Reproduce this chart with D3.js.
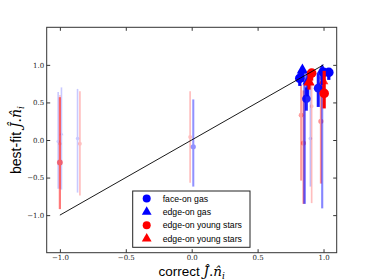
<!DOCTYPE html>
<html>
<head>
<meta charset="utf-8">
<script src="https://cdn.jsdelivr.net/npm/d3@7"></script>
<style>
  body { margin: 0; background: #fff; }
  svg { display: block; }
</style>
</head>
<body>
<svg id="chart" width="374" height="280"></svg>
<script>
// each row: [correct, bestFit, errDown, errUp, weight]
var faceGas = [
  [-1.013, -0.02, 0.63, 0.66, 0.1],
  [-0.866, 0.02, 0.72, 0.66, 0.1],
  [0.012, -0.09, 0.53, 0.63, 0.35],
  [0.90, 0.02, 0.64, 0.82, 0.12],
  [0.99, 0.83, 1.74, 0.10, 0.4],
  [0.82, 0.82, 0.10, 0.10, 1.0],
  [0.87, 0.55, 0.16, 0.15, 0.85],
  [0.96, 0.69, 0.25, 0.20, 0.9],
  [1.00, 0.90, 0.10, 0.05, 1.0],
  [1.04, 0.90, 0.10, 0.05, 1.0]
];
var edgeGas = [
  [-0.988, 0.08, 0.74, 0.62, 0.1],
  [0.856, 0.80, 1.65, 0.10, 0.55],
  [0.84, 0.93, 0.15, 0.05, 1.0],
  [0.88, 0.78, 0.20, 0.10, 0.9],
  [0.99, 0.93, 0.20, 0.05, 0.9]
];
var faceStars = [
  [-1.0, -0.30, 0.62, 0.87, 0.45],
  [-1.0, -0.05, 0.60, 0.65, 0.1],
  [-0.848, -0.05, 0.69, 0.70, 0.15],
  [-0.012, 0.04, 0.61, 0.61, 0.15],
  [0.83, 0.33, 0.87, 0.40, 0.3],
  [0.848, -0.04, 0.81, 0.70, 0.35],
  [0.91, 0.45, 1.29, 0.40, 0.15],
  [0.98, 0.25, 0.83, 0.60, 0.35],
  [0.91, 0.89, 0.10, 0.05, 1.0],
  [1.005, 0.62, 0.20, 0.30, 1.0]
];
var edgeStars = [
  [0.89, 0.77, 0.10, 0.15, 1.0],
  [1.00, 0.78, 0.15, 0.10, 0.8]
];
var legendLabels = ["face-on gas", "edge-on gas", "edge-on young stars", "edge-on young stars"];
var xTicks = [-1.0, -0.5, 0.0, 0.5, 1.0];
var yTicks = [-1.0, -0.5, 0.0, 0.5, 1.0];

var series = [
  { rows: faceGas, color: "#0000ff", shape: "circle" },
  { rows: edgeGas, color: "#0000ff", shape: "triangle" },
  { rows: faceStars, color: "#ff0000", shape: "circle" },
  { rows: edgeStars, color: "#ff0000", shape: "triangle" }
];

var svg = d3.select("#chart");
var box = { l: 46.7, r: 336.7, t: 27.3, b: 252.7 };

var x = d3.scaleLinear().domain([-1.1, 1.1]).range([box.l, box.r]);
var y = d3.scaleLinear().domain([-1.5, 1.5]).range([box.b, box.t]);
var alpha = d3.scaleLinear().domain([0, 1]).range([0.12, 1]);
var rad = d3.scaleLinear().domain([0, 1]).range([1.4, 4.8]);
var barW = d3.scaleLinear().domain([0, 1]).range([1.4, 3.2]);

// flatten, faint ones drawn first
var pts = [];
series.forEach(function(s) {
  s.rows.forEach(function(r) {
    pts.push({ x: r[0], y: r[1], lo: r[2], hi: r[3], w: r[4], color: s.color, shape: s.shape });
  });
});
pts.sort(function(a, b) { return a.w - b.w; });

var plot = svg.append("g");

var pg = plot.selectAll("g.pt")
  .data(pts)
  .enter().append("g")
    .attr("class", "pt")
    .attr("opacity", d => alpha(d.w));

pg.append("line")
  .attr("x1", d => x(d.x)).attr("x2", d => x(d.x))
  .attr("y1", d => y(d.y - d.lo)).attr("y2", d => y(d.y + d.hi))
  .attr("stroke", d => d.color)
  .attr("stroke-width", d => barW(d.w));

pg.append("path")
  .attr("transform", d => "translate(" + x(d.x) + "," + y(d.y) + ")")
  .attr("d", function(d) {
    var r = rad(d.w);
    if (d.shape == "circle") return d3.symbol(d3.symbolCircle, Math.PI * r * r)();
    return d3.symbol(d3.symbolTriangle, r * r * 2.4)();
  })
  .attr("fill", d => d.color);

// 1:1 line
plot.append("line")
  .attr("x1", x(-1)).attr("y1", y(-1))
  .attr("x2", x(1)).attr("y2", y(1))
  .attr("stroke", "#000")
  .attr("stroke-width", 0.9);

// axes, ticks pointing inward on all four sides
function styleAxis(g) {
  g.select(".domain").remove();
  g.selectAll(".tick line").attr("stroke", "#000").attr("stroke-width", 0.8);
  g.selectAll(".tick text")
    .attr("fill", "#222")
    .style("font-family", "'DejaVu Serif', serif")
    .style("font-size", "7px");
}

svg.append("g")
  .attr("transform", "translate(0," + box.b + ")")
  .call(d3.axisBottom(x).tickValues(xTicks).tickFormat(d3.format(".1f")).tickSizeInner(-3.5).tickSizeOuter(0).tickPadding(2.5))
  .call(styleAxis);
svg.append("g")
  .attr("transform", "translate(0," + box.t + ")")
  .call(d3.axisTop(x).tickValues(xTicks).tickFormat("").tickSizeInner(-3.5).tickSizeOuter(0))
  .call(styleAxis);
svg.append("g")
  .attr("transform", "translate(" + box.l + ",0)")
  .call(d3.axisLeft(y).tickValues(yTicks).tickFormat(d3.format(".1f")).tickSizeInner(-3.5).tickSizeOuter(0).tickPadding(2.5))
  .call(styleAxis);
svg.append("g")
  .attr("transform", "translate(" + box.r + ",0)")
  .call(d3.axisRight(y).tickValues(yTicks).tickFormat("").tickSizeInner(-3.5).tickSizeOuter(0))
  .call(styleAxis);

svg.append("rect")
  .attr("x", box.l).attr("y", box.t)
  .attr("width", box.r - box.l).attr("height", box.b - box.t)
  .attr("fill", "none")
  .attr("stroke", "#333")
  .attr("stroke-width", 1);

// axis labels with math part
function mathLabel(t, word) {
  t.append("tspan").text(word + " ")
    .style("font-family", "'Liberation Sans', Arial, sans-serif");
  t.append("tspan").text("\u0134").style("font-family", "'DejaVu Serif', serif").style("font-style", "italic");
  t.append("tspan").text(".").style("font-family", "'DejaVu Serif', serif");
  t.append("tspan").text("n\u0302").style("font-family", "'DejaVu Serif', serif").style("font-style", "italic");
  t.append("tspan").text("i").attr("dy", 3).style("font-size", "9px")
    .style("font-family", "'DejaVu Serif', serif").style("font-style", "italic");
}

var xl = svg.append("text")
  .attr("x", (box.l + box.r) / 2).attr("y", 275.5)
  .attr("text-anchor", "middle")
  .style("font-size", "13.5px")
  .attr("fill", "#000");
mathLabel(xl, "correct");

var yl = svg.append("text")
  .attr("transform", "translate(21," + (box.t + box.b) / 2 + ") rotate(-90)")
  .attr("text-anchor", "middle")
  .style("font-size", "14px")
  .attr("fill", "#000");
mathLabel(yl, "best-fit");

// legend
var lg = svg.append("g").attr("transform", "translate(132.7,191)");
lg.append("rect")
  .attr("width", 117.3).attr("height", 56.3)
  .attr("fill", "#fff")
  .attr("stroke", "#222")
  .attr("stroke-width", 1);

var le = lg.selectAll("g.le")
  .data(series)
  .enter().append("g")
    .attr("class", "le")
    .attr("transform", (d, i) => "translate(14," + (7.5 + i * 13.4) + ")");

le.append("path")
  .attr("d", function(d) {
    if (d.shape == "circle") return d3.symbol(d3.symbolCircle, Math.PI * 16)();
    return d3.symbol(d3.symbolTriangle, 16 * 2.6)();
  })
  .attr("fill", d => d.color);

le.append("text")
  .attr("x", 16)
  .attr("dy", "0.35em")
  .style("font-family", "'Liberation Sans', Arial, sans-serif")
  .style("font-size", "8.7px")
  .attr("fill", "#000")
  .text((d, i) => legendLabels[i]);
</script>
</body>
</html>
